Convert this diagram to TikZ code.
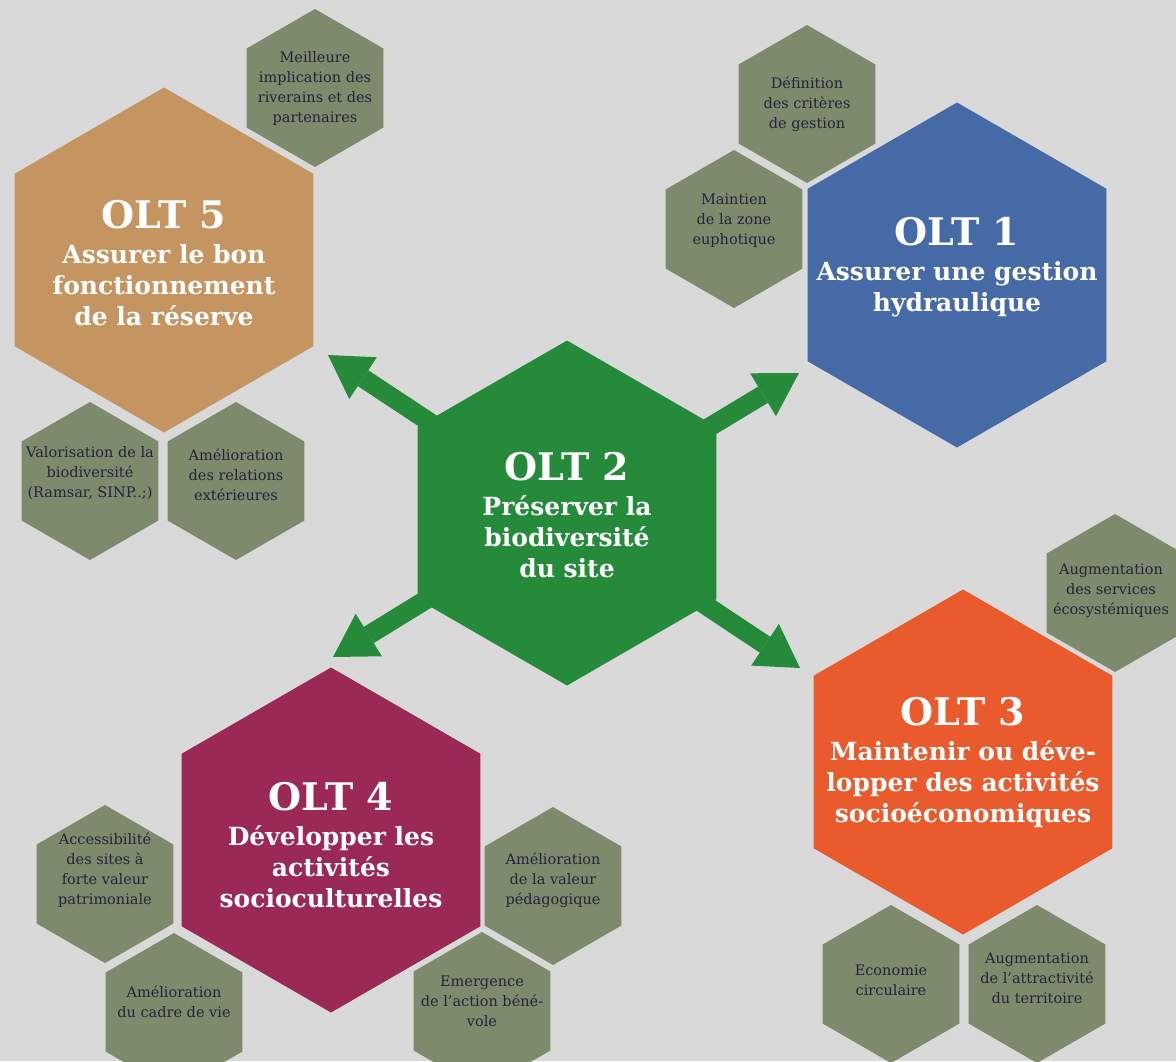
\documentclass[tikz,border=0pt]{standalone}
\usepackage{fontspec}
\setmainfont{DejaVu Serif}
\usepackage{xcolor}
\usetikzlibrary{arrows.meta,shapes.geometric}
\definecolor{bgcol}{HTML}{D9D9D9}
\definecolor{leafcol}{HTML}{7D8B6C}
\definecolor{inkcol}{HTML}{22223A}
\definecolor{tancol}{HTML}{C49560}
\definecolor{bluecol}{HTML}{456AA6}
\definecolor{greencol}{HTML}{258B3A}
\definecolor{orangecol}{HTML}{E95B2D}
\definecolor{plumcol}{HTML}{9B2955}
\newcommand{\olttitle}[1]{{\fontsize{38}{38}\selectfont OLT #1}}

\begin{document}
\begin{tikzpicture}[x=1pt,y=-1pt,
  hexbig/.style={regular polygon,regular polygon sides=6,shape border rotate=30,
                 minimum size=345pt,inner sep=0pt},
  hexsmall/.style={regular polygon,regular polygon sides=6,shape border rotate=30,
                   minimum size=158pt,inner sep=0pt,fill=leafcol},
  bigtxt/.style={text=white,align=center,font=\bfseries\fontsize{25}{31}\selectfont},
  smalltxt/.style={text=inkcol,align=center,font=\fontsize{14.5}{20}\selectfont},
  growarrow/.style={draw=greencol,line width=19pt,
                    -{Triangle[length=42pt,width=50pt,line width=0pt]}},
]
\useasboundingbox (0,0) rectangle (1176,1061);
\clip (0,0) rectangle (1176,1061);
\fill[bgcol] (0,0) rectangle (1176,1061);

% satellites of OLT 5
\node[hexsmall,label={[smalltxt]center:{Meilleure\\implication des\\riverains et des\\partenaires}}] (imp) at (315,88) {};
\node[hexsmall,label={[smalltxt,yshift=8pt]center:{Valorisation de la\\biodiversité\\(Ramsar, SINP..;)}}] (val) at (90,481) {};
\node[hexsmall,label={[smalltxt,yshift=6pt]center:{Amélioration\\des relations\\extérieures}}] (rel) at (236,481) {};

% satellites of OLT 1
\node[hexsmall,label={[smalltxt]center:{Définition\\des critères\\de gestion}}] (def) at (807,104) {};
\node[hexsmall,label={[smalltxt,yshift=8pt]center:{Maintien\\de la zone\\euphotique}}] (mai) at (734,229) {};

% satellites of OLT 3
\node[hexsmall,label={[smalltxt,xshift=-4pt,yshift=2pt]center:{Augmentation\\des services\\écosystémiques}}] (eco) at (1115,593) {};
\node[hexsmall,label={[smalltxt,yshift=4pt]center:{Economie\\circulaire}}] (circ) at (891,984) {};
\node[hexsmall,label={[smalltxt,yshift=6pt]center:{Augmentation\\de l’attractivité\\du territoire}}] (attr) at (1037,984) {};

% satellites of OLT 4
\node[hexsmall,label={[smalltxt,yshift=14pt]center:{Accessibilité\\des sites à\\forte valeur\\patrimoniale}}] (acc) at (105,884) {};
\node[hexsmall,label={[smalltxt,yshift=10pt]center:{Amélioration\\du cadre de vie}}] (cadre) at (174,1012) {};
\node[hexsmall,label={[smalltxt,yshift=6pt]center:{Amélioration\\de la valeur\\pédagogique}}] (peda) at (553,886) {};
\node[hexsmall,label={[smalltxt,yshift=10pt]center:{Emergence\\de l’action béné-\\vole}}] (bene) at (482,1011) {};

% the five objectives
\node[hexbig,fill=tancol,label={[bigtxt,yshift=-3pt]center:{\olttitle{5}\\[4pt]Assurer le bon\\fonctionnement\\de la réserve}}] (olt5) at (164,260) {};
\node[hexbig,fill=bluecol,label={[bigtxt,yshift=8pt]center:{\olttitle{1}\\[4pt]Assurer une gestion\\hydraulique}}] (olt1) at (957,275) {};
\node[hexbig,fill=orangecol,label={[bigtxt]center:{\olttitle{3}\\[4pt]Maintenir ou déve-\\lopper des activités\\socioéconomiques}}] (olt3) at (963,762) {};
\node[hexbig,fill=plumcol,label={[bigtxt,yshift=-5pt]center:{\olttitle{4}\\[4pt]Développer les\\activités\\socioculturelles}}] (olt4) at (331,840) {};

% arrows out of the centre
\coordinate (aul) at (328,355);
\coordinate (aur) at (799,373);
\coordinate (all) at (333,657);
\coordinate (alr) at (800,668);
\node[hexbig] (olt2) at (567,513) {};
\foreach \tip in {aul,aur,all,alr}
  \draw[growarrow] (olt2.center) -- (\tip);
\node[hexbig,fill=greencol,label={[bigtxt,yshift=-2pt]center:{\olttitle{2}\\[4pt]Préserver la\\biodiversité\\du site}}] at (olt2) {};
\end{tikzpicture}
\end{document}
